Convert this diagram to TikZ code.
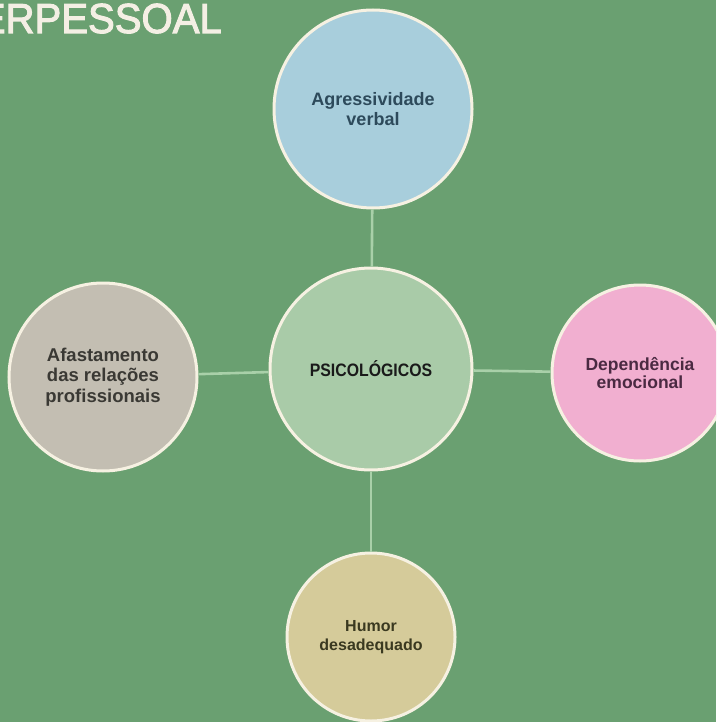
\documentclass[tikz,border=0pt]{standalone}
\usepackage{fontspec}
\setmainfont{Liberation Sans}
\newfontfamily\headfont{Liberation Sans}[FakeBold=2.5]
\definecolor{bgcol}{HTML}{6AA071}
\definecolor{ringcol}{HTML}{F6F1E2}
\definecolor{linkcol}{HTML}{A9D0A9}
\definecolor{titlecol}{HTML}{F4EFE4}
\definecolor{midfill}{HTML}{A9CBA8}
\definecolor{midtext}{HTML}{1A1A1A}
\definecolor{topfill}{HTML}{A8CEDC}
\definecolor{toptext}{HTML}{2D4A5B}
\definecolor{leftfill}{HTML}{C3BEB2}
\definecolor{lefttext}{HTML}{3A3934}
\definecolor{rightfill}{HTML}{F1AFD0}
\definecolor{righttext}{HTML}{4A2A42}
\definecolor{botfill}{HTML}{D5CB9A}
\definecolor{bottext}{HTML}{3A3920}
\begin{document}
\begin{tikzpicture}[x=1pt,y=-1pt,
  bubble/.style={circle, draw=ringcol, line width=3pt, inner sep=0pt, align=center},
  link/.style={draw=linkcol, line width=2.6pt}]
\fill[bgcol] (0,0) rectangle (716,722);
\useasboundingbox (0,0) rectangle (716,722);
\clip (0,0) rectangle (716,722);
% heading, running off the left edge
\node[anchor=base east, text=titlecol, font=\headfont\fontsize{42}{42}\selectfont, inner sep=0pt]
  (title) at (222,33) {\scalebox{0.955}[1]{ERPESSOAL}};
% circles
\node[bubble, fill=midfill, text=midtext, minimum size=202pt,
  font=\bfseries\fontsize{18}{20}\selectfont] (c) at (371,369) {\scalebox{0.88}[1]{PSICOLÓGICOS}};
\node[bubble, fill=topfill, text=toptext, minimum size=198pt,
  font=\bfseries\fontsize{18}{20.5}\selectfont] (t) at (373,109) {Agressividade\\verbal};
\node[bubble, fill=leftfill, text=lefttext, minimum size=188pt,
  font=\bfseries\fontsize{18.5}{20.5}\selectfont] (l) at (103,377) {Afastamento\\das relações\\profissionais};
\node[bubble, fill=rightfill, text=righttext, minimum size=176pt,
  font=\bfseries\fontsize{17.5}{17.5}\selectfont] (r) at (640,373) {Dependência\\emocional};
\node[bubble, fill=botfill, text=bottext, minimum size=168pt,
  font=\bfseries\fontsize{16}{18.5}\selectfont] (b) at (371,637) {Humor\\desadequado};
% connectors
\draw[link] (c) -- (t);
\draw[link] (c) -- (l);
\draw[link] (c) -- (r);
\draw[link] (c) -- (b);
\end{tikzpicture}
\end{document}
